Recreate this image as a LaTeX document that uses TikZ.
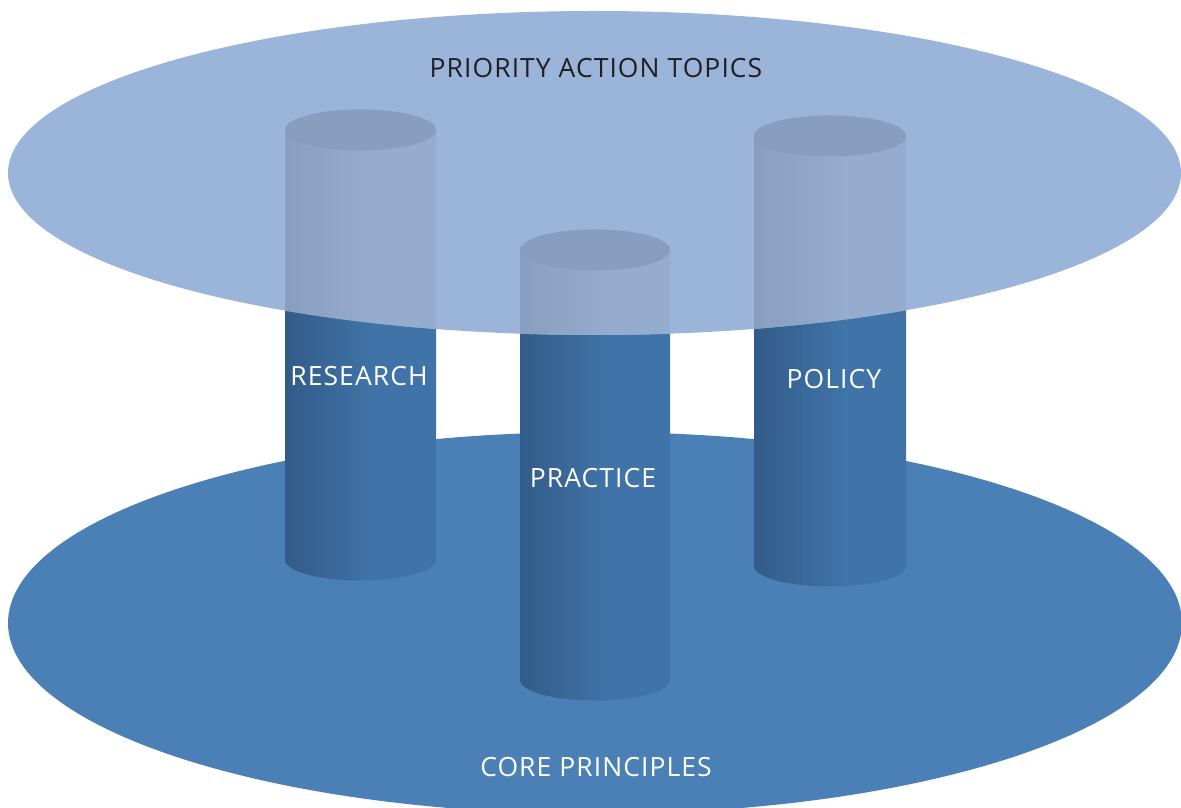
\documentclass[tikz,border=0pt]{standalone}
\usepackage{fontspec}
\setmainfont[LetterSpace=4]{Open Sans}
\definecolor{baseblue}{HTML}{4A80B6}
\definecolor{topblue}{HTML}{9BB4D9}
\definecolor{dA}{HTML}{2A4E77}
\definecolor{dB}{HTML}{4074A8}
\definecolor{dC}{HTML}{3A6898}
\definecolor{lA}{HTML}{8197B8}
\definecolor{lB}{HTML}{95ACCE}
\definecolor{lC}{HTML}{8DA3C5}
\definecolor{capL}{HTML}{889EBF}
\definecolor{txtdark}{HTML}{231F20}
\pgfdeclarehorizontalshading{cyldark}{100bp}{color(0bp)=(dA); color(8bp)=(dA); color(55bp)=(dB); color(82bp)=(dB); color(90bp)=(dC); color(100bp)=(dC)}
\pgfdeclarehorizontalshading{cyllight}{100bp}{color(0bp)=(lA); color(8bp)=(lA); color(55bp)=(lB); color(82bp)=(lB); color(90bp)=(lC); color(100bp)=(lC)}
\tikzset{
  lbl/.style={font=\fontsize{26.5}{30}\selectfont, text=white, inner sep=0pt},
  toplbl/.style={font=\fontsize{26.5}{30}\selectfont, text=txtdark, inner sep=0pt},
}
% #1 cx, #2 rx, #3 top y, #4 bottom y, #5 shading
\newcommand{\cylbody}[5]{%
  \shade[shading=#5] (#1-#2,#3) -- (#1-#2,#4) arc[start angle=180,end angle=360,x radius=#2,y radius=20.5] -- (#1+#2,#3) arc[start angle=0,end angle=180,x radius=#2,y radius=20.5] -- cycle;}
\begin{document}
\begin{tikzpicture}[x=1pt,y=1pt]
\useasboundingbox (0,0) rectangle (1181,808);
% base ellipse
\fill[baseblue] (595,185) ellipse[x radius=587,y radius=191];
% cylinders (dark)
\cylbody{360.5}{75.5}{678}{248}{cyldark}
\cylbody{595}{75}{558}{128}{cyldark}
\cylbody{830}{76}{672}{242}{cyldark}
% top ellipse
\fill[topblue] (594.5,635) ellipse[x radius=586.5,y radius=162];
\begin{scope}
\clip (594.5,635) ellipse[x radius=586.5,y radius=162];
\cylbody{360.5}{75.5}{678}{248}{cyllight}
\cylbody{595}{75}{558}{128}{cyllight}
\cylbody{830}{76}{672}{242}{cyllight}
\fill[capL] (360.5,678) ellipse[x radius=75.5,y radius=20.5];
\fill[capL] (595,558) ellipse[x radius=75,y radius=20.5];
\fill[capL] (830,672) ellipse[x radius=76,y radius=20.5];
\end{scope}
% labels
\node[toplbl] (pat) at (596,740) {PRIORITY ACTION TOPICS};
\node[lbl] (res) at (359,432) {RESEARCH};
\node[lbl] (pra) at (593,330) {PRACTICE};
\node[lbl] (pol) at (834,429) {POLICY};
\node[lbl] (cor) at (596,41) {CORE PRINCIPLES};
\end{tikzpicture}
\end{document}
